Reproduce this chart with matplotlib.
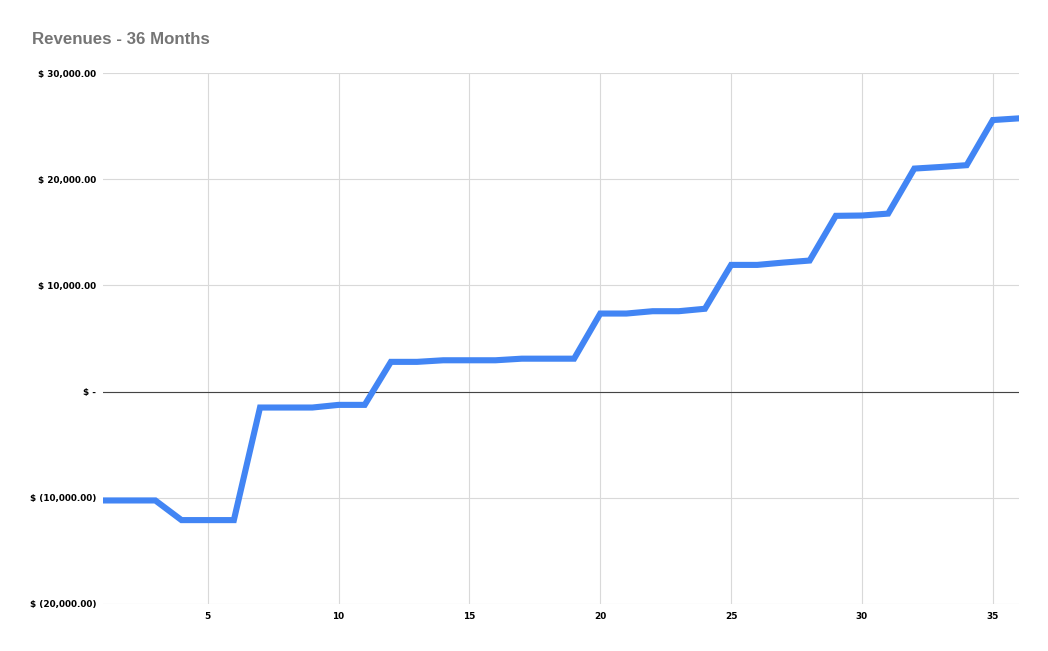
import matplotlib
matplotlib.use("Agg")
import matplotlib.pyplot as plt
from matplotlib.ticker import FuncFormatter

months = list(range(1, 37))
revenues = [
    -10250, -10250, -10250, -12100, -12100, -12100,
    -1500, -1500, -1500, -1250, -1250,
    2800, 2800, 2950, 2950, 2950, 3100, 3100, 3100,
    7350, 7350, 7570, 7570, 7800,
    11930, 11930, 12150, 12340,
    16550, 16580, 16760,
    21000, 21150, 21320,
    25570, 25730,
]
title = "Revenues - 36 Months"
y_ticks = [-20000, -10000, 0, 10000, 20000, 30000]
x_ticks = [5, 10, 15, 20, 25, 30, 35]

plt.rcParams['font.family'] = ['Liberation Sans', 'DejaVu Sans']

fig = plt.figure(figsize=(10.48, 6.51), dpi=100)
ax = fig.add_axes([103/1048, 1-604/651, (1019-103)/1048, (604-73)/651])

def fmt(v, pos):
    if v == 0:
        return "$ -"
    if v < 0:
        return "$ ({:,.2f})".format(-v)
    return "$ {:,.2f}".format(v)

ax.plot(months, revenues, color="#4285F4", linewidth=4.4, solid_joinstyle="miter", zorder=3)
ax.axhline(0, color="#444444", linewidth=0.8, zorder=2)

ax.set_xlim(1, 36)
ax.set_ylim(-20000, 30000)
ax.set_yticks(y_ticks)
ax.set_xticks(x_ticks)
ax.yaxis.set_major_formatter(FuncFormatter(fmt))
ax.grid(True, color="#d9d9d9", linewidth=0.8, zorder=0)
for s in ax.spines.values():
    s.set_visible(False)
ax.tick_params(axis='both', length=0, labelsize=6.4)
ax.tick_params(axis='y', pad=5)
ax.tick_params(axis='x', pad=6)
for lab in ax.get_xticklabels() + ax.get_yticklabels():
    lab.set_fontweight('bold')
    lab.set_fontfamily('DejaVu Sans')
    lab.set_color('#000000')

fig.text(32/1048, 1-40/651, title, fontsize=12.2, fontweight='bold', color='#757575',
         ha='left', va='center')

fig.savefig("out.png", dpi=100, facecolor="white")
